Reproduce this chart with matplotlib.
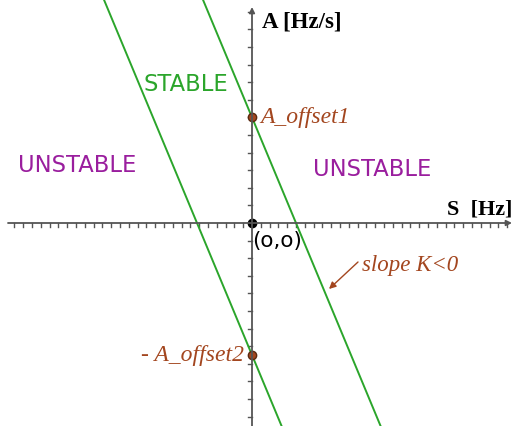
import numpy as np
import matplotlib
matplotlib.use("Agg")
import matplotlib.pyplot as plt

# ---- data ----
slope_K = -1.2
offsets = [6.0, -7.5]          # A_offset1, -A_offset2
x_ticks = list(range(-27, 30))
y_ticks = list(range(-11, 13))
region_labels = ["STABLE", "UNSTABLE", "UNSTABLE"]
point_labels = ["A_offset1", "- A_offset2"]

W, H = 514, 427
fig = plt.figure(figsize=(W / 100, H / 100), dpi=100)
ax = fig.add_axes([0, 0, 1, 1])
ox, oy = 252, 224          # pixel position of origin
sx, sy = 8.8, 17.6         # pixels per unit
ax.set_xlim(-ox / sx, (W - ox) / sx)
ax.set_ylim(-(H - oy) / sy, oy / sy)
ax.axis("off")

axis_col = "#555555"
green = "#2ba52b"
purple = "#9a1e9e"
brown = "#a3461f"

# axes
xl, xr = -244 / sx, 260 / sx
ax.annotate("", xy=(xr, 0), xytext=(xl, 0),
            arrowprops=dict(arrowstyle="-|>", color=axis_col, lw=1.3,
                            mutation_scale=8, shrinkA=0, shrinkB=0))
yb, yt = -(H - oy) / sy, (oy - 8) / sy
ax.annotate("", xy=(0, yt), xytext=(0, yb),
            arrowprops=dict(arrowstyle="-|>", color=axis_col, lw=1.3,
                            mutation_scale=8, shrinkA=0, shrinkB=0))
# ticks
for t in x_ticks:
    if t == 0:
        continue
    ax.plot([t, t], [0, -4 / sy], color=axis_col, lw=1.0)
for t in y_ticks:
    if t == 0:
        continue
    ax.plot([0, -4 / sx], [t, t], color=axis_col, lw=1.0)

# lines
xs = np.array([-40, 40])
for b in offsets:
    ax.plot(xs, slope_K * xs + b, color=green, lw=1.4)

# points
ax.plot([0], [0], "o", color="black", ms=6)
for b in offsets:
    ax.plot([0], [b], "o", color=brown, mec="#5a2a10", ms=6)

# texts
ax.text((262 - ox) / sx, (oy - 22) / sy, "A [Hz/s]", family="Liberation Serif",
        fontweight="bold", fontsize=16.5, va="center", ha="left", color="black")
ax.text((512 - ox) / sx, (oy - 210) / sy, "S  [Hz]", family="Liberation Serif",
        fontweight="bold", fontsize=16, va="center", ha="right", color="black")
ax.text((186 - ox) / sx, (oy - 85) / sy, region_labels[0], color=green,
        fontsize=16.3, ha="center", va="center", family="DejaVu Sans")
ax.text((77 - ox) / sx, (oy - 166) / sy, region_labels[1], color=purple,
        fontsize=16.3, ha="center", va="center", family="DejaVu Sans")
ax.text((372 - ox) / sx, (oy - 170) / sy, region_labels[2], color=purple,
        fontsize=16.3, ha="center", va="center", family="DejaVu Sans")
ax.text((252 - ox) / sx, (oy - 241) / sy, "(o,o)", color="black",
        fontsize=15.5, ha="left", va="center", family="DejaVu Sans")
ax.text((260 - ox) / sx, offsets[0] + 1 / sy, point_labels[0], color=brown,
        fontsize=17, style="italic", family="Liberation Serif", ha="left", va="center")
ax.text((244 - ox) / sx, offsets[1], point_labels[1], color=brown,
        fontsize=17, style="italic", family="Liberation Serif", ha="right", va="center")
ax.text((362 - ox) / sx, (oy - 266) / sy, "slope K<0", color=brown,
        fontsize=16.5, style="italic", family="Liberation Serif", ha="left", va="center")
ax.annotate("", xy=((329 - ox) / sx, (oy - 290) / sy),
            xytext=((358 - ox) / sx, (oy - 263) / sy),
            arrowprops=dict(arrowstyle="-|>", color=brown, lw=1.0,
                            mutation_scale=10, shrinkA=0, shrinkB=0))

fig.savefig("out.png", dpi=100, facecolor="white")
